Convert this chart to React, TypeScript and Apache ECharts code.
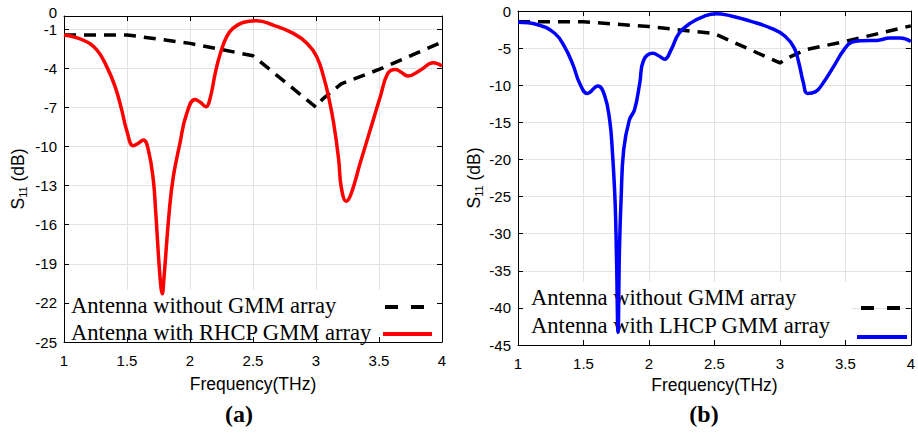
import React, { useEffect, useRef } from "react";
import * as echarts from "echarts";

// ---- data ----
const freqNoGMM = [1.0, 1.5, 2.0, 2.5, 3.0, 3.05, 3.2, 3.5, 4.0];
const s11NoGMM = [-1.45, -1.45, -2.1, -3.05, -7.0, -6.4, -5.2, -4.1, -2.0];

const freqRHCP = [1.0, 1.15, 1.26, 1.34, 1.405, 1.458, 1.497, 1.55, 1.59, 1.63, 1.67, 1.709, 1.727, 1.762, 1.78, 1.794, 1.836, 1.868, 1.92, 1.97, 2.04, 2.08, 2.127, 2.16, 2.2, 2.24, 2.29, 2.34, 2.42, 2.53, 2.66, 2.82, 2.93, 3.005, 3.06, 3.1, 3.14, 3.18, 3.2, 3.24, 3.28, 3.35, 3.43, 3.51, 3.57, 3.63, 3.67, 3.73, 3.83, 3.93, 4.0];
const s11RHCP = [-1.46, -1.84, -2.6, -3.9, -5.4, -7.2, -8.75, -9.95, -9.75, -9.5, -10.3, -12.6, -14.9, -20.0, -21.3, -20.0, -14.9, -12.3, -9.77, -7.6, -6.4, -6.6, -6.96, -6.3, -4.4, -2.9, -1.6, -0.95, -0.5, -0.36, -0.7, -1.33, -2.1, -3.1, -4.65, -6.2, -8.2, -11.0, -13.1, -14.2, -13.6, -11.3, -8.75, -6.2, -4.4, -4.1, -4.27, -4.6, -4.14, -3.58, -3.84];

const freqLHCP = [1.0, 1.15, 1.28, 1.355, 1.42, 1.47, 1.53, 1.61, 1.66, 1.7, 1.72, 1.741, 1.752, 1.764, 1.775, 1.787, 1.807, 1.85, 1.89, 1.93, 1.96, 2.03, 2.08, 2.12, 2.17, 2.23, 2.32, 2.42, 2.51, 2.62, 2.78, 2.93, 3.04, 3.11, 3.145, 3.18, 3.21, 3.27, 3.33, 3.41, 3.49, 3.55, 3.63, 3.74, 3.84, 3.92, 4.0];
const s11LHCP = [-1.53, -1.85, -3.0, -4.8, -7.25, -9.7, -11.1, -10.1, -11.3, -14.7, -18.7, -25.5, -33.0, -43.3, -32.0, -25.5, -18.7, -14.7, -13.3, -9.7, -6.6, -5.7, -6.1, -6.5, -5.2, -3.0, -1.6, -0.72, -0.36, -0.63, -1.4, -2.3, -3.4, -5.0, -7.0, -9.7, -11.1, -10.9, -9.7, -7.5, -5.2, -4.2, -4.0, -3.96, -3.65, -3.65, -4.1];

const yTicksA = [-25, -22, -19, -16, -13, -10, -7, -4, -1, 0];
const yLabelsA = [-25, -22, -19, -16, -13, -10, -7, -4, -1];
const yTopLabelA = [0];
const nameNoGMM = "Antenna without GMM array";
const nameRHCP = "Antenna with RHCP GMM array";
const nameLHCP = "Antenna with LHCP GMM array";
const panelLabels = ["(a)", "(b)"];

const zip = (xs: number[], ys: number[]) => xs.map((x, i) => [x, ys[i]]);

const SANS = "'Liberation Sans', Arial, sans-serif";
const SERIF = "'Liberation Serif', 'Times New Roman', serif";

export default function App() {
  const ref = useRef<HTMLDivElement>(null);
  useEffect(() => {
    if (!ref.current) return;
    const chart = echarts.init(ref.current, undefined, { renderer: "svg" });

    const tick = { show: true, inside: true, length: 5, lineStyle: { color: "#000", width: 1 } };
    const axLine = { show: true, onZero: false, lineStyle: { color: "#000", width: 1 } };
    const split = { show: true, lineStyle: { color: "#e3e3e3", width: 1 } };
    const lbl = { fontFamily: SANS, fontSize: 15, color: "#000" };

    const xBase = (grid: number, gap: number) => ({
      type: "value", gridIndex: grid, min: 1, max: 4, interval: 0.5,
      axisLine: axLine, axisTick: tick, splitLine: split,
      axisLabel: { ...lbl, margin: 11, showMaxLabel: true, showMinLabel: true },
      name: "Frequency(THz)", nameLocation: "middle", nameGap: gap,
      nameTextStyle: { fontFamily: SANS, fontSize: 17.5, color: "#000" },
    });
    const xMirror = (grid: number) => ({
      type: "value", gridIndex: grid, min: 1, max: 4, interval: 0.5, position: "top",
      axisLine: axLine, axisTick: tick, splitLine: { show: false }, axisLabel: { show: false },
    });
    const yName = {
      name: "{s|S}{sub|11}{s| (dB)}", nameLocation: "middle",
      nameTextStyle: {
        color: "#000",
        rich: {
          s: { fontFamily: SANS, fontSize: 17.5, color: "#000" },
          sub: { fontFamily: SANS, fontSize: 11, color: "#000", padding: [9, 0, 0, 0] },
        },
      },
    };

    const option: any = {
      animation: false,
      backgroundColor: "#fff",
      grid: [
        { left: 64, right: 476, top: 16, bottom: 91, show: false },
        { left: 518, right: 6, top: 11, bottom: 88, show: false },
      ],
      xAxis: [xBase(0, 33), xBase(1, 31), xMirror(0), xMirror(1)],
      yAxis: [
        {
          type: "value", gridIndex: 0, min: -25, max: 0,
          axisLine: axLine,
          axisTick: { ...tick, customValues: yTicksA },
          axisLabel: { ...lbl, margin: 7, customValues: yLabelsA },
          splitLine: split,
          ...yName, nameGap: 36,
        },
        {
          type: "value", gridIndex: 1, min: -45, max: 0, interval: 5,
          axisLine: axLine, axisTick: tick,
          axisLabel: { ...lbl, margin: 7, showMaxLabel: true, showMinLabel: true },
          splitLine: split,
          ...yName, nameGap: 34,
        },
        {
          type: "value", gridIndex: 0, min: -25, max: 0, position: "right",
          axisLine: axLine, axisTick: { ...tick, customValues: yTicksA },
          axisLabel: { show: false, customValues: yTicksA }, splitLine: { show: false },
        },
        {
          type: "value", gridIndex: 1, min: -45, max: 0, interval: 5, position: "right",
          axisLine: axLine, axisTick: tick, axisLabel: { show: false }, splitLine: { show: false },
        },
        {
          // carries only the top "0" label of panel (a)
          type: "value", gridIndex: 0, min: -25, max: 0, position: "left",
          axisLine: { show: false }, axisTick: { show: false, customValues: yTopLabelA },
          axisLabel: { ...lbl, margin: 7, lineHeight: 8, verticalAlign: "bottom", customValues: yTopLabelA, showMaxLabel: true },
          splitLine: { show: false },
        },
      ],
      series: [
        {
          name: nameNoGMM, type: "line", xAxisIndex: 0, yAxisIndex: 0,
          data: zip(freqNoGMM, s11NoGMM), showSymbol: false, symbol: "none",
          lineStyle: { color: "#000", width: 3.5, type: [12, 8] }, z: 3,
        },
        {
          name: nameRHCP, type: "line", xAxisIndex: 0, yAxisIndex: 0,
          data: zip(freqRHCP, s11RHCP), showSymbol: false, symbol: "none",
          smooth: 0.45,
          lineStyle: { color: "#ff0000", width: 3.5 }, z: 3,
        },
        {
          name: nameNoGMM, type: "line", xAxisIndex: 1, yAxisIndex: 1,
          data: zip(freqNoGMM, s11NoGMM), showSymbol: false, symbol: "none",
          lineStyle: { color: "#000", width: 3.5, type: [12, 8] }, z: 3,
        },
        {
          name: nameLHCP, type: "line", xAxisIndex: 1, yAxisIndex: 1,
          data: zip(freqLHCP, s11LHCP), showSymbol: false, symbol: "none",
          smooth: 0.45,
          lineStyle: { color: "#0000ff", width: 3.5 }, z: 3,
        },
      ],
      graphic: [
        // legend (a)
        { type: "rect", z: 1, shape: { x: 70, y: 290, width: 367, height: 47 }, style: { fill: "#fff" } },
        { type: "text", z: 2, x: 71, y: 305, style: { text: nameNoGMM, font: `22.6px ${SERIF}`, fill: "#000", verticalAlign: "middle" } },
        { type: "text", z: 2, x: 71, y: 332, style: { text: nameRHCP, font: `22.6px ${SERIF}`, fill: "#000", verticalAlign: "middle" } },
        { type: "line", z: 4, shape: { x1: 385, y1: 307, x2: 424, y2: 307 }, style: { stroke: "#000", lineWidth: 4, lineDash: [13, 13] } },
        { type: "line", z: 4, shape: { x1: 383, y1: 334, x2: 432, y2: 334 }, style: { stroke: "#ff0000", lineWidth: 4 } },
        // legend (b)
        { type: "rect", z: 1, shape: { x: 524, y: 282, width: 328, height: 58 }, style: { fill: "#fff" } },
        { type: "text", z: 2, x: 531, y: 297, style: { text: nameNoGMM, font: `22.6px ${SERIF}`, fill: "#000", verticalAlign: "middle" } },
        { type: "text", z: 2, x: 531, y: 325, style: { text: nameLHCP, font: `22.6px ${SERIF}`, fill: "#000", verticalAlign: "middle" } },
        { type: "line", z: 4, shape: { x1: 861, y1: 308, x2: 900, y2: 308 }, style: { stroke: "#000", lineWidth: 4, lineDash: [13, 13] } },
        { type: "line", z: 4, shape: { x1: 857, y1: 337, x2: 907, y2: 337 }, style: { stroke: "#0000ff", lineWidth: 4 } },
        // panel labels
        { type: "text", x: 239, y: 414, style: { text: panelLabels[0], font: `bold 24px ${SERIF}`, fill: "#000", align: "center", verticalAlign: "middle" } },
        { type: "text", x: 704, y: 414, style: { text: panelLabels[1], font: `bold 24px ${SERIF}`, fill: "#000", align: "center", verticalAlign: "middle" } },
      ],
    };
    chart.setOption(option);
    return () => chart.dispose();
  }, []);
  return <div ref={ref} style={{ position: "absolute", left: 0, top: 0, width: 918, height: 433 }} />;
}
